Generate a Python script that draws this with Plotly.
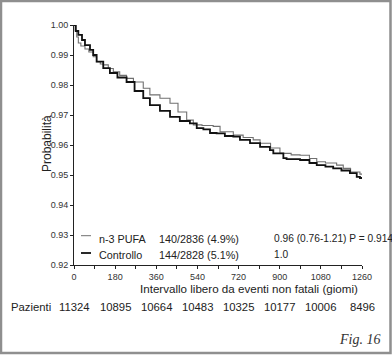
import plotly.graph_objects as go

# ---- data ----
pufa_days = [0, 5, 12, 19, 30, 48, 65, 84, 99, 115, 128, 150, 172, 200, 230, 260, 303, 332,
             376, 420, 455, 493, 522, 560, 609, 639, 697, 740, 784, 814, 860, 901, 950, 989,
             1030, 1062, 1100, 1149, 1178, 1210, 1251, 1264]
pufa_prob = [1.0, 0.998, 0.996, 0.994, 0.993, 0.992, 0.991, 0.9894, 0.9878, 0.987, 0.9867,
             0.9855, 0.9844, 0.9832, 0.9822, 0.981, 0.9789, 0.9767, 0.9756, 0.9739, 0.971,
             0.9683, 0.9667, 0.9665, 0.9662, 0.9644, 0.9633, 0.9625, 0.9617, 0.9606, 0.959,
             0.9572, 0.9567, 0.9566, 0.9555, 0.9544, 0.954, 0.9533, 0.9522, 0.951, 0.9503, 0.9497]

ctrl_days = [0, 8, 19, 35, 48, 70, 84, 99, 128, 157, 190, 230, 265, 303, 332, 376, 420, 463,
             507, 537, 566, 595, 624, 660, 697, 726, 770, 814, 857, 872, 916, 930, 989, 1030,
             1062, 1100, 1134, 1170, 1207, 1237, 1251, 1264]
ctrl_prob = [1.0, 0.998, 0.9967, 0.995, 0.9933, 0.9917, 0.990, 0.9878, 0.9856, 0.984, 0.9825,
             0.981, 0.978, 0.9756, 0.9733, 0.9714, 0.9694, 0.968, 0.9672, 0.9656, 0.9652,
             0.964, 0.9639, 0.963, 0.9628, 0.9617, 0.9606, 0.9594, 0.9583, 0.9572, 0.9556,
             0.9553, 0.955, 0.954, 0.9533, 0.9528, 0.9522, 0.9515, 0.9506, 0.9494, 0.949, 0.9478]

x_ticks = [0, 90, 180, 270, 360, 450, 540, 630, 720, 810, 900, 990, 1080, 1170, 1260]
x_labels = ["0", "", "180", "", "360", "", "540", "", "720", "", "900", "", "1080", "", "1260"]
y_ticks = [0.92, 0.93, 0.94, 0.95, 0.96, 0.97, 0.98, 0.99, 1.00]

patients_days = [0, 180, 360, 540, 720, 900, 1080, 1260]
patients = [11324, 10895, 10664, 10483, 10325, 10177, 10006, 8496]

legend_rows = [
    ("n-3 PUFA", "140/2836 (4.9%)", "0.96 (0.76-1.21) P = 0.914"),
    ("Controllo", "144/2828 (5.1%)", "1.0"),
]

W, H = 392, 356
L, R, T, B = 74, 30, 25, 91
PW, PH = W - L - R, H - T - B

def px(x):
    return (x - L) / PW

def py(y):
    return (H - B - y) / PH

FONT = "Liberation Sans, Arial, sans-serif"

fig = go.Figure()
fig.add_trace(go.Scatter(x=pufa_days, y=pufa_prob, mode="lines", line_shape="hv",
                         line=dict(color="#707070", width=1.1), name="n-3 PUFA"))
fig.add_trace(go.Scatter(x=ctrl_days, y=ctrl_prob, mode="lines", line_shape="hv",
                         line=dict(color="#111111", width=1.8), name="Controllo"))

shapes = []
annotations = []

# legend-like text block
row_y = [238.5, 254.5]
line_y = [235.7, 253]
line_w = [1.0, 1.8]
line_c = ["#707070", "#111111"]
col_x = [97, 156.5, 271.5]
col_size = [10.8, 10.8, 10.2]
for i, row in enumerate(legend_rows):
    shapes.append(dict(type="line", xref="paper", yref="paper",
                       x0=px(81), x1=px(91), y0=py(line_y[i]), y1=py(line_y[i]),
                       line=dict(color=line_c[i], width=line_w[i])))
    for j, txt in enumerate(row):
        annotations.append(dict(text=txt, xref="paper", yref="paper", x=px(col_x[j]),
                                y=py(row_y[i]), xanchor="left", yanchor="middle",
                                showarrow=False,
                                font=dict(size=col_size[j], color="#222", family=FONT)))

# patients row
annotations.append(dict(text="Pazienti", xref="paper", yref="paper", x=px(9), y=py(306.5),
                        xanchor="left", yanchor="middle", showarrow=False,
                        font=dict(size=11.3, color="#222", family=FONT)))
for d, n in zip(patients_days, patients):
    annotations.append(dict(text=str(n), xref="x", yref="paper", x=d, y=py(306.5),
                            xanchor="center", yanchor="middle", showarrow=False,
                            font=dict(size=11.3, color="#222", family=FONT)))

# x axis title
annotations.append(dict(text="Intervallo libero da eventi non fatali (giomi)", xref="paper",
                        yref="paper", x=px(249), y=py(288), xanchor="center", yanchor="middle",
                        showarrow=False, font=dict(size=11.6, color="#222", family=FONT)))
# y axis title
annotations.append(dict(text="Probabilità", xref="paper", yref="paper", x=px(47), y=py(144),
                        xanchor="center", yanchor="middle", textangle=-90,
                        showarrow=False, font=dict(size=12, color="#222", family=FONT)))

# figure label
annotations.append(dict(text="<i>Fig. 16</i>", xref="paper", yref="paper", x=px(382), y=py(339),
                        xanchor="right", yanchor="middle", showarrow=False,
                        font=dict(size=14, color="#333", family="Liberation Serif, serif")))

# frame around the image
shapes.append(dict(type="rect", xref="paper", yref="paper",
                   x0=px(1), x1=px(390.5), y0=py(1), y1=py(353),
                   line=dict(color="#8f8f8f", width=2.5), fillcolor="rgba(0,0,0,0)"))

fig.update_layout(
    template="none",
    width=W, height=H,
    margin=dict(l=L, r=R, t=T, b=B, pad=0),
    paper_bgcolor="white", plot_bgcolor="white",
    showlegend=False,
    shapes=shapes, annotations=annotations,
    font=dict(family=FONT, color="#222"),
    xaxis=dict(range=[0, 1260], tickvals=x_ticks, ticktext=x_labels, ticks="outside",
               ticklen=3, tickcolor="#222", showline=True, linecolor="#222", linewidth=1,
               showgrid=False, zeroline=False, automargin=False,
               tickfont=dict(size=9, color="#333")),
    yaxis=dict(range=[0.92, 1.0], tickvals=y_ticks, tickformat=".2f", ticks="outside",
               ticklen=3, tickcolor="#222", showline=True, linecolor="#222", linewidth=1,
               showgrid=False, zeroline=False, automargin=False,
               tickfont=dict(size=9, color="#333")),
)

fig.write_html("out.html", config={"displayModeBar": False},
               post_script="document.body.style.margin='0';")
